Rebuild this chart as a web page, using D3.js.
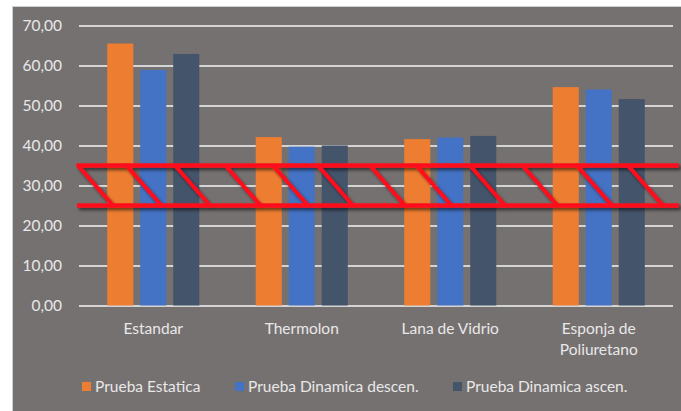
<!DOCTYPE html>
<html>
<head>
<meta charset="utf-8">
<script src="https://cdn.jsdelivr.net/npm/d3@7"></script>
<style>
  html, body { margin: 0; padding: 0; background: #ffffff; }
  svg { display: block; }
  text { font-family: Lato, "Open Sans", sans-serif; }
</style>
</head>
<body>
<svg id="chart" width="681" height="411"></svg>
<script>
// Material categories and measured values per test
const categories = ["Estandar", "Thermolon", "Lana de Vidrio", "Esponja de Poliuretano"];
const seriesNames = ["Prueba Estatica", "Prueba Dinamica descen.", "Prueba Dinamica ascen."];
const pruebaEstatica = [65.5, 42.1, 41.6, 54.6];
const pruebaDinamicaDescen = [58.9, 39.7, 42.0, 54.0];
const pruebaDinamicaAscen = [62.9, 40.0, 42.4, 51.6];
const yTicks = [0, 10, 20, 30, 40, 50, 60, 70];
// Highlighted range on the value axis
const bandRange = [25, 35];

const seriesValues = [pruebaEstatica, pruebaDinamicaDescen, pruebaDinamicaAscen];
const colors = ["#ED7D31", "#4472C4", "#44546A"];

const svg = d3.select("#chart");
const W = 681, H = 411;
const fontSize = 15.5;
const textColor = "#e8e8e8";

// Chart area background
svg.append("rect").attr("x", 0).attr("y", 0).attr("width", W).attr("height", H).attr("fill", "#ffffff");
svg.append("rect")
  .attr("x", 12.5).attr("y", 6.5).attr("width", W).attr("height", H)
  .attr("fill", "#767171").attr("stroke", "#cfcfcf").attr("stroke-width", 1);

const plot = { left: 79, right: 673, top: 25.5, bottom: 305.5 };

const y = d3.scaleLinear().domain([0, 70]).range([plot.bottom, plot.top]);
const x = d3.scaleBand().domain(categories).range([plot.left, plot.right]).padding(0);
const clusterPad = 0.19 * x.bandwidth();
const xs = d3.scaleBand().domain(seriesNames)
  .range([clusterPad, x.bandwidth() - clusterPad])
  .paddingInner(0.21).paddingOuter(0);

const locale = d3.formatLocale({ decimal: ",", thousands: ".", grouping: [3], currency: ["", "€"] });
const fmt = locale.format(".2f");

// Gridlines and value labels
const yAxis = d3.axisLeft(y).tickValues(yTicks).tickFormat(fmt)
  .tickSize(-(plot.right - plot.left)).tickPadding(17);
const gy = svg.append("g").attr("transform", `translate(${plot.left},0)`).call(yAxis);
gy.select(".domain").remove();
gy.selectAll(".tick line").attr("stroke", "#d4d4d4").attr("stroke-width", 2);
gy.selectAll(".tick text").attr("fill", textColor).attr("font-size", fontSize).attr("dy", "0.34em");

// Bars
const rows = categories.map((c, i) => ({ c, vals: seriesNames.map((s, j) => ({ s, v: seriesValues[j][i], j })) }));
const groups = svg.append("g").selectAll("g").data(rows).join("g")
  .attr("transform", d => `translate(${x(d.c)},0)`);
groups.selectAll("rect").data(d => d.vals).join("rect")
  .attr("x", d => xs(d.s))
  .attr("width", xs.bandwidth())
  .attr("y", d => y(d.v))
  .attr("height", d => y(0) - y(d.v))
  .attr("fill", d => colors[d.j]);

// Category labels (wrapped when too wide)
const xLab = svg.append("g");
categories.forEach(c => {
  const cx = x(c) + x.bandwidth() / 2;
  const t = xLab.append("text")
    .attr("x", cx)
    .attr("y", 334)
    .attr("text-anchor", "middle")
    .attr("fill", textColor)
    .attr("font-size", fontSize);
  const words = c.split(" ");
  let line = [];
  let ts = t.append("tspan").attr("x", cx).attr("dy", 0);
  words.forEach(w => {
    line.push(w);
    ts.text(line.join(" "));
    if (ts.node().getComputedTextLength() > 125 && line.length > 1) {
      line.pop();
      ts.text(line.join(" "));
      line = [w];
      ts = t.append("tspan").attr("x", cx).attr("dy", 21).text(w);
    }
  });
});

// Highlight band with hatching
const defs = svg.append("defs");
const f = defs.append("filter").attr("id", "shadow").attr("x", "-5%").attr("y", "-20%").attr("width", "110%").attr("height", "160%");
f.append("feDropShadow").attr("dx", 2).attr("dy", 2.5).attr("stdDeviation", 1.6)
  .attr("flood-color", "#000").attr("flood-opacity", 0.55);

const band = svg.append("g").attr("filter", "url(#shadow)");
const yTop = y(bandRange[1]), yBot = y(bandRange[0]);
const bandLeft = plot.left - 2, bandRight = W - 2;
const hatchStarts = [0, 48.5, 97, 147.5, 195, 240, 292, 338.5, 392, 444.5, 499, 550];
const slant = 35;
band.selectAll("line.diag").data(hatchStarts).join("line")
  .attr("class", "diag")
  .attr("x1", d => bandLeft + 1 + d).attr("y1", yTop)
  .attr("x2", d => bandLeft + 1 + d + slant).attr("y2", yBot)
  .attr("stroke", "#ff0d1d").attr("stroke-width", 4).attr("stroke-linecap", "round");
band.selectAll("line.edge").data([yTop, yBot]).join("line")
  .attr("class", "edge")
  .attr("x1", bandLeft).attr("x2", bandRight)
  .attr("y1", d => d).attr("y2", d => d)
  .attr("stroke", "#ff0d1d").attr("stroke-width", 4.5);

// Legend
const legendItems = [
  { name: seriesNames[0], color: colors[0], x: 82 },
  { name: seriesNames[1], color: colors[1], x: 235 },
  { name: seriesNames[2], color: colors[2], x: 453 }
];
const lg = svg.append("g").selectAll("g").data(legendItems).join("g")
  .attr("transform", d => `translate(${d.x},382)`);
lg.append("rect").attr("width", 9).attr("height", 9).attr("fill", d => d.color);
lg.append("text").attr("x", 13).attr("y", 4.5).attr("dy", "0.36em")
  .attr("fill", textColor).attr("font-size", fontSize).text(d => d.name);
</script>
</body>
</html>
